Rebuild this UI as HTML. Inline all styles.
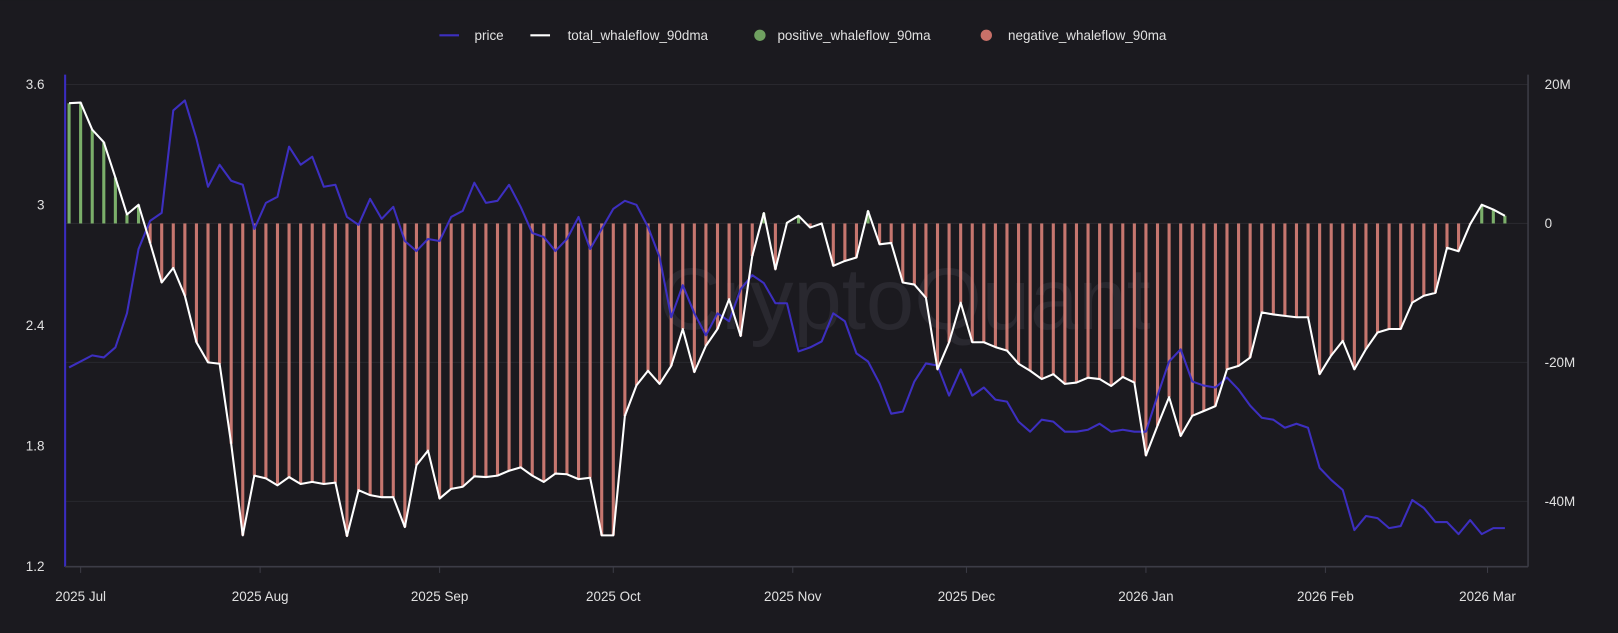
<!DOCTYPE html>
<html><head><meta charset="utf-8"><style>
html,body{margin:0;padding:0;background:#1b1a1f;width:1618px;height:633px;overflow:hidden}
svg{display:block}
text{font-family:"Liberation Sans",sans-serif}
</style></head><body>
<svg id="chart" width="1618" height="633" viewBox="0 0 1565 612" xmlns="http://www.w3.org/2000/svg">
<rect x="0" y="0" width="1565" height="612" fill="#1b1a1f"/>
<g font-size="13" fill="#e0e0e0">
 <g><line x1="425" y1="34" x2="444" y2="34" stroke="#3d2fc0" stroke-width="2"/><text x="459" y="38.5">price</text></g>
 <g><line x1="513" y1="34" x2="532" y2="34" stroke="#ffffff" stroke-width="2"/><text x="549" y="38.5">total_whaleflow_90dma</text></g>
 <g><circle cx="735" cy="34" r="5.5" fill="#6fa060"/><text x="752" y="38.5">positive_whaleflow_90ma</text></g>
 <g><circle cx="954" cy="34" r="5.5" fill="#c87068"/><text x="975" y="38.5">negative_whaleflow_90ma</text></g>
</g>
<text x="875" y="318" font-size="84" fill="#29282f" text-anchor="middle">CryptoQuant</text>
<g id="grid"></g>
<g id="bars"></g>
<g id="lines"></g>
<g id="axes"></g>
</svg>
<script>
const priceTicks = [3.6, 3.0, 2.4, 1.8, 1.2];
const priceTickLabels = ["3.6", "3", "2.4", "1.8", "1.2"];
const flowTicks = [20, 0, -20, -40];
const flowTickLabels = ["20M", "0", "-20M", "-40M"];
const monthOffsets = [0, 31, 62, 92, 123, 153, 184, 215, 243];
const monthLabels = ["2025 Jul", "2025 Aug", "2025 Sep", "2025 Oct", "2025 Nov", "2025 Dec", "2026 Jan", "2026 Feb", "2026 Mar"];
// day offsets from 2025-07-01 (every 2 days)
const days = [];
for (let d = -2; d <= 246; d += 2) days.push(d);
const flow = [17.3,17.4,13.5,11.7,6.6,1.3,2.7,-2.8,-8.5,-6.4,-10.4,-17.1,-20,-20.2,-31.7,-44.9,-36.3,-36.7,-37.7,-36.5,-37.5,-37.2,-37.5,-37.3,-45,-38.4,-39.1,-39.4,-39.4,-43.7,-34.8,-32.7,-39.6,-38.2,-37.9,-36.4,-36.5,-36.3,-35.6,-35.1,-36.3,-37.2,-36,-36.1,-36.8,-36.6,-44.9,-44.9,-27.7,-23.3,-21.2,-23.1,-20.5,-15.2,-21.4,-17.6,-15.2,-10.9,-16.2,-4.7,1.5,-6.6,0.1,1.1,-0.6,0,-6.1,-5.4,-4.9,1.8,-3,-2.8,-8.5,-8.8,-10.7,-21,-17.1,-11.4,-17.1,-17.1,-17.8,-18.3,-20.2,-21.2,-22.4,-21.7,-23.1,-22.9,-22.2,-22.4,-23.4,-22.1,-22.9,-33.4,-29.1,-25,-30.6,-27.7,-27,-26.3,-21,-20.5,-19.3,-12.8,-13.1,-13.3,-13.5,-13.5,-21.7,-19,-16.9,-21,-18.1,-15.7,-15.2,-15.2,-11.4,-10.4,-10,-3.5,-4,-0.1,2.7,2,1.1];
const price = [2.19,2.22,2.25,2.24,2.29,2.46,2.78,2.92,2.96,3.47,3.52,3.33,3.09,3.2,3.12,3.1,2.88,3.01,3.04,3.29,3.2,3.24,3.09,3.1,2.94,2.9,3.03,2.93,2.99,2.82,2.77,2.83,2.82,2.94,2.97,3.11,3.01,3.02,3.1,2.99,2.86,2.84,2.77,2.83,2.94,2.78,2.88,2.98,3.02,3.0,2.89,2.74,2.44,2.6,2.46,2.35,2.46,2.42,2.58,2.65,2.61,2.51,2.51,2.27,2.29,2.32,2.46,2.42,2.26,2.22,2.11,1.96,1.97,2.12,2.21,2.2,2.05,2.18,2.05,2.09,2.03,2.02,1.92,1.87,1.93,1.92,1.87,1.87,1.88,1.91,1.87,1.88,1.87,1.87,2.05,2.22,2.28,2.12,2.1,2.09,2.14,2.08,2.0,1.94,1.93,1.89,1.91,1.89,1.69,1.63,1.58,1.38,1.45,1.44,1.39,1.4,1.53,1.49,1.42,1.42,1.36,1.43,1.36,1.39,1.39];

const NS = "http://www.w3.org/2000/svg";
const X0 = 63, X1 = 1478, YT = 72, YB = 548;
function xOf(d){ return 78 + d * 5.6; }
function yPrice(p){ return 198 - (p - 3) * 194.2; }
function yFlow(v){ return 216 - v * 6.72; }
function mk(tag, attrs, parent){ const e = document.createElementNS(NS, tag); for (const k in attrs) e.setAttribute(k, attrs[k]); parent.appendChild(e); return e; }

const grid = document.getElementById('grid');
flowTicks.forEach(function(v){
  const l = mk('line', {x1:X0, x2:X1, y1:yFlow(v), y2:yFlow(v), stroke:'#29282e', 'stroke-width':1}, grid);
  
  
});

const bars = document.getElementById('bars');
flow.forEach(function(v, i){
  const x = xOf(days[i]);
  const y0 = yFlow(0), y1 = yFlow(v);
  const r = mk('rect', {x: x - 1.5, y: Math.min(y0, y1), width: 3, height: Math.abs(y1 - y0), fill: v >= 0 ? '#86c072' : '#d98178', opacity: 0.9}, bars);
  
  
});

const lines = document.getElementById('lines');
const pp = price.map(function(p, i){ return xOf(days[i]).toFixed(1) + ',' + yPrice(p).toFixed(1); }).join(' ');
const pl = mk('polyline', {points: pp, fill:'none', stroke:'#3d2fc0', 'stroke-width':2, 'stroke-linejoin':'round'}, lines);


const fp = flow.map(function(v, i){ return xOf(days[i]).toFixed(1) + ',' + yFlow(v).toFixed(1); }).join(' ');
const fl = mk('polyline', {points: fp, fill:'none', stroke:'#ffffff', 'stroke-width':2, 'stroke-linejoin':'round'}, lines);



const axes = document.getElementById('axes');
const la = mk('line', {x1:X0, x2:X0, y1:YT, y2:YB, stroke:'#3a2cc0', 'stroke-width':2}, axes);


const ra = mk('line', {x1:X1, x2:X1, y1:YT, y2:YB, stroke:'#3c3c46', 'stroke-width':1.5}, axes);


const ba = mk('line', {x1:X0, x2:X1, y1:YB, y2:YB, stroke:'#3c3c46', 'stroke-width':1.5}, axes);


priceTicks.forEach(function(p, i){
  const t = mk('text', {x:43, y:yPrice(p) + 4.5, 'font-size':13, fill:'#e0e0e0', 'text-anchor':'end'}, axes);
  t.textContent = priceTickLabels[i];
  
  
});
flowTicks.forEach(function(v, i){
  const t = mk('text', {x:1494, y:yFlow(v) + 4.5, 'font-size':13, fill:'#e0e0e0'}, axes);
  t.textContent = flowTickLabels[i];
  
  
});
monthOffsets.forEach(function(d, i){
  const x = xOf(d);
  const tk = mk('line', {x1:x, x2:x, y1:YB, y2:YB + 6, stroke:'#3c3c46', 'stroke-width':1}, axes);
  
  
  const t = mk('text', {x:x, y:581, 'font-size':13, fill:'#e0e0e0', 'text-anchor':'middle'}, axes);
  t.textContent = monthLabels[i];
  
  
});
</script>
</body></html>
